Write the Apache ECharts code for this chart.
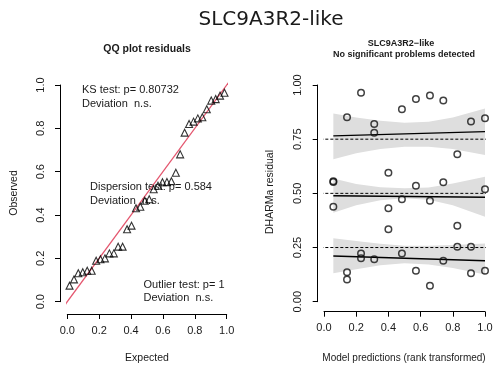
<!DOCTYPE html>
<html><head><meta charset="utf-8">
<script src="https://cdn.jsdelivr.net/npm/echarts@6/dist/echarts.min.js"></script>
<style>html,body{margin:0;padding:0;background:#fff}#c{width:496px;height:368px}</style>
</head><body><div id="c"></div>
<script>
// QQ plot: expected uniform quantiles and sorted observed residuals
const qqExpected = [0.014,0.042,0.069,0.097,0.125,0.153,0.181,0.208,0.236,0.264,0.292,0.319,0.347,0.375,0.403,0.431,0.458,0.486,0.514,0.542,0.569,0.597,0.625,0.653,0.681,0.708,0.736,0.764,0.792,0.819,0.847,0.875,0.903,0.931,0.958,0.986];
const qqObserved = [0.074,0.103,0.131,0.136,0.143,0.143,0.189,0.196,0.200,0.223,0.223,0.254,0.254,0.334,0.351,0.431,0.438,0.466,0.473,0.519,0.535,0.551,0.552,0.556,0.595,0.680,0.780,0.820,0.831,0.846,0.851,0.888,0.928,0.935,0.951,0.964];
const identityEnds = [-0.045, 1.045];

// Residual vs predicted
const predX = [0.058,0.058,0.058,0.143,0.143,0.143,0.23,0.23,0.23,0.312,0.312,0.312,0.4,0.4,0.4,0.484,0.484,0.484,0.571,0.571,0.571,0.658,0.658,0.658,0.741,0.741,0.741,0.828,0.828,0.828,0.913,0.913,0.913,1.0,1.0,1.0];
const resY  = [0.556,0.552,0.438,0.851,0.136,0.103,0.964,0.223,0.200,0.820,0.780,0.196,0.595,0.431,0.334,0.888,0.473,0.223,0.935,0.535,0.143,0.951,0.466,0.074,0.928,0.551,0.189,0.680,0.351,0.254,0.831,0.254,0.131,0.846,0.519,0.143];

const refLevels = [0.25, 0.5, 0.75];
const refXEnds = [-0.085, 1.05];

const bandX    = [0.058, 0.2, 0.35, 0.5, 0.65, 0.8, 1.0];
const band75Lo = [0.657, 0.685, 0.705, 0.715, 0.715, 0.705, 0.677];
const band75Hi = [0.869, 0.850, 0.835, 0.826, 0.830, 0.850, 0.892];
const band50Lo = [0.410, 0.445, 0.468, 0.477, 0.470, 0.445, 0.392];
const band50Hi = [0.569, 0.543, 0.528, 0.523, 0.527, 0.545, 0.577];
const band25Lo = [0.131, 0.150, 0.168, 0.177, 0.172, 0.155, 0.126];
const band25Hi = [0.293, 0.280, 0.267, 0.258, 0.258, 0.262, 0.269];

const qLineX = [0.058, 1.0];
const q25 = [0.211, 0.189];
const q50 = [0.489, 0.482];
const q75 = [0.765, 0.785];

const FONT = '"Liberation Sans", Arial, sans-serif';
const txtCol = '#1a1a1a';

function pairs(xs, ys){ return xs.map((x,i)=>[x, ys[i]]); }

const bands = [[band75Lo, band75Hi],[band50Lo, band50Hi],[band25Lo, band25Hi]];

const series = [];
// identity line
series.push({type:'line', xAxisIndex:0, yAxisIndex:0, data: pairs(identityEnds, identityEnds), symbol:'none', clip:false,
  lineStyle:{color:'#e4566e', width:1.3}, z:3, silent:true});
series.push({type:'scatter', xAxisIndex:0, yAxisIndex:0, data: pairs(qqExpected, qqObserved), symbol:'triangle', symbolSize:7,
  itemStyle:{color:'rgba(0,0,0,0)', borderColor:'#000', borderWidth:1.1}, z:4, silent:true});

// confidence bands
series.push({type:'custom', xAxisIndex:1, yAxisIndex:1, coordinateSystem:'cartesian2d', data: bands.map((b,i)=>[bandX[0], b[0][0], i]),
  encode:{x:0, y:1}, z:1, silent:true, clip:false,
  renderItem: function(params, api){
    const b = bands[params.dataIndex];
    const pts = [];
    bandX.forEach((x,i)=>pts.push(api.coord([x, b[1][i]])));
    for (let i = bandX.length-1; i>=0; i--) pts.push(api.coord([bandX[i], b[0][i]]));
    return {type:'polygon', shape:{points:pts}, style:{fill:'#dedede', stroke:null}};
  }});
// reference dashed lines
refLevels.forEach(l=>{
  series.push({type:'line', xAxisIndex:1, yAxisIndex:1, data: pairs(refXEnds, refXEnds.map(()=>l)), symbol:'none', clip:false,
    lineStyle:{color:'#000', width:1, type:[3,2]}, z:2, silent:true});
});
// quantile regression lines
[q25, q50, q75].forEach(q=>{
  series.push({type:'line', xAxisIndex:1, yAxisIndex:1, data: pairs(qLineX, q), symbol:'none',
    lineStyle:{color:'#000', width:1.4}, z:3, silent:true});
});
series.push({type:'scatter', xAxisIndex:1, yAxisIndex:1, data: pairs(predX, resY), symbol:'circle', symbolSize:6.5,
  itemStyle:{color:'rgba(0,0,0,0)', borderColor:'#111', borderWidth:1.5}, z:4, silent:true});

function axisCommon(extra){
  return Object.assign({
    type:'value', splitLine:{show:false},
    axisLine:{show:true, onZero:false, lineStyle:{color:'#000', width:1}},
    axisTick:{show:true, length:5, lineStyle:{color:'#000', width:1}}
  }, extra);
}
function lab(extra){ return Object.assign({color:txtCol, fontFamily:FONT, fontSize:11}, extra); }

const option = {
  animation:false,
  backgroundColor:'#fff',
  grid:[
    {left:67.3, width:159.4, top:85, height:216.7},
    {left:324, width:161, top:85, height:216.7}
  ],
  xAxis:[
    axisCommon({gridIndex:0, min:0, max:1, interval:0.2, offset:12.3, axisLabel:lab({margin:11, formatter:v=>v.toFixed(1)})}),
    axisCommon({gridIndex:1, min:0, max:1, interval:0.2, offset:10, axisLabel:lab({margin:11, formatter:v=>v.toFixed(1)})})
  ],
  yAxis:[
    axisCommon({gridIndex:0, min:0, max:1, interval:0.2, offset:7.3, axisLabel:lab({margin:14, rotate:90, formatter:v=>v.toFixed(1)})}),
    axisCommon({gridIndex:1, min:0, max:1, interval:0.25, offset:6.3, axisLabel:lab({margin:14, rotate:90, formatter:v=>v.toFixed(2)})})
  ],
  series: series,
  graphic:[
    {type:'text', x:271, y:20, style:{text:'SLC9A3R2-like', fill:txtCol, font:'20px "DejaVu Sans", sans-serif', textAlign:'center', textVerticalAlign:'middle'}},
    {type:'text', x:147, y:49, style:{text:'QQ plot residuals', fill:txtCol, font:'bold 10.5px '+FONT, textAlign:'center', textVerticalAlign:'middle'}},
    {type:'text', x:401, y:44, style:{text:'SLC9A3R2\u2212like', fill:txtCol, font:'bold 9px '+FONT, textAlign:'center', textVerticalAlign:'middle'}},
    {type:'text', x:404, y:54.5, style:{text:'No significant problems detected', fill:txtCol, font:'bold 9px '+FONT, textAlign:'center', textVerticalAlign:'middle'}},
    {type:'text', x:82, y:90, style:{text:'KS test: p= 0.80732', fill:txtCol, font:'11px '+FONT, textAlign:'left', textVerticalAlign:'middle'}},
    {type:'text', x:82, y:104, style:{text:'Deviation  n.s.', fill:txtCol, font:'11px '+FONT, textAlign:'left', textVerticalAlign:'middle'}},
    {type:'text', x:90, y:187, style:{text:'Dispersion test: p= 0.584', fill:txtCol, font:'11px '+FONT, textAlign:'left', textVerticalAlign:'middle'}},
    {type:'text', x:90, y:200.5, style:{text:'Deviation  n.s.', fill:txtCol, font:'11px '+FONT, textAlign:'left', textVerticalAlign:'middle'}},
    {type:'text', x:143.5, y:284.5, style:{text:'Outlier test: p= 1', fill:txtCol, font:'11px '+FONT, textAlign:'left', textVerticalAlign:'middle'}},
    {type:'text', x:143.5, y:298, style:{text:'Deviation  n.s.', fill:txtCol, font:'11px '+FONT, textAlign:'left', textVerticalAlign:'middle'}},
    {type:'text', x:147, y:358, style:{text:'Expected', fill:txtCol, font:'10.5px '+FONT, textAlign:'center', textVerticalAlign:'middle'}},
    {type:'text', x:404, y:358, style:{text:'Model predictions (rank transformed)', fill:txtCol, font:'10px '+FONT, textAlign:'center', textVerticalAlign:'middle'}},
    {type:'text', x:14, y:193, rotation:Math.PI/2, style:{text:'Observed', fill:txtCol, font:'10.5px '+FONT, textAlign:'center', textVerticalAlign:'middle'}},
    {type:'text', x:270, y:192, rotation:Math.PI/2, style:{text:'DHARMa residual', fill:txtCol, font:'10.5px '+FONT, textAlign:'center', textVerticalAlign:'middle'}}
  ]
};
const chart = echarts.init(document.getElementById('c'), null, {renderer:'canvas'});
chart.setOption(option);
</script></body></html>
